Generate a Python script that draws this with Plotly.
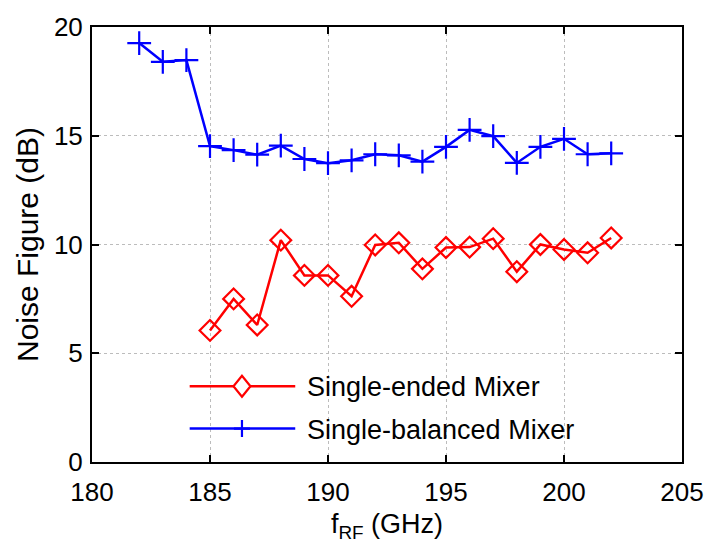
import plotly.graph_objects as go

# RF frequency (GHz) and measured noise figure (dB)
freq_se = [185, 186, 187, 188, 189, 190, 191, 192, 193, 194, 195, 196, 197, 198, 199, 200, 201, 202]
nf_se = [6.05, 7.5, 6.3, 10.2, 8.58, 8.58, 7.62, 9.98, 10.08, 8.88, 9.86, 9.88, 10.27, 8.75, 10.0, 9.77, 9.62, 10.3]

freq_sb = [182, 183, 184, 185, 186, 187, 188, 189, 190, 191, 192, 193, 194, 195, 196, 197, 198, 199, 200, 201, 202]
nf_sb = [19.26, 18.4, 18.48, 14.52, 14.34, 14.13, 14.55, 13.93, 13.74, 13.87, 14.15, 14.1, 13.81, 14.49, 15.27, 14.98, 13.75, 14.49, 14.86, 14.15, 14.19]

x_ticks = [180, 185, 190, 195, 200, 205]
y_ticks = [0, 5, 10, 15, 20]

series_names = ["Single-ended Mixer", "Single-balanced Mixer"]
RED = "#ff0000"
BLUE = "#0000ff"
FONT = "Liberation Sans, Arial, sans-serif"

fig = go.Figure()
fig.add_trace(go.Scatter(
    x=freq_se, y=nf_se, mode="lines+markers", name=series_names[0],
    line=dict(color=RED, width=2.5),
    marker=dict(symbol="diamond-open", size=16, color=RED, line=dict(width=2.2, color=RED)),
    showlegend=False, cliponaxis=False,
))
fig.add_trace(go.Scatter(
    x=freq_sb, y=nf_sb, mode="lines+markers", name=series_names[1],
    line=dict(color=BLUE, width=2.5),
    marker=dict(symbol="cross-thin-open", size=17, color=BLUE, line=dict(width=2.2, color=BLUE)),
    showlegend=False, cliponaxis=False,
))

# Hand-drawn legend: long line samples with centred glyphs, no frame
W, H = 598.0, 442.0  # plot area in pixels
def px_x(p):
    return (p - 92) / W
def px_y(p):
    return (462 - p) / H

legend_rows = [(385, RED, "diamond"), (428, BLUE, "plus")]
for (row_y, col, glyph), label in zip(legend_rows, series_names):
    fig.add_shape(type="line", xref="paper", yref="paper",
                  x0=px_x(191), x1=px_x(298), y0=px_y(row_y), y1=px_y(row_y),
                  line=dict(color=col, width=2.5))
    if glyph == "diamond":
        path = "M0,-10.5 L8.5,0 L0,10.5 L-8.5,0 Z"
    else:
        path = "M-8,0 L8,0 M0,-8.5 L0,8.5"
    fig.add_shape(type="path", xref="paper", yref="paper",
                  xsizemode="pixel", ysizemode="pixel",
                  xanchor=px_x(244), yanchor=px_y(row_y),
                  path=path, line=dict(color=col, width=2.2),
                  fillcolor="white" if glyph == "diamond" else None)
    fig.add_annotation(xref="paper", yref="paper", x=px_x(308), y=px_y(row_y + 1),
                       text=label, showarrow=False, xanchor="left", yanchor="middle",
                       font=dict(family=FONT, size=27, color="black"))

axis_common = dict(
    showline=True, linecolor="black", linewidth=2, mirror="allticks",
    ticks="inside", ticklen=7, tickwidth=2, tickcolor="black",
    showgrid=True, gridcolor="#bcbcbc", griddash="dot", gridwidth=1,
    zeroline=False,
    tickfont=dict(family=FONT, size=26, color="black"),
)

fig.update_xaxes(range=[180, 205], tickvals=x_ticks, ticktext=[str(v) for v in x_ticks],
                 ticklabelstandoff=6,
                 title=dict(text="f<sub>RF</sub> (GHz)", font=dict(family=FONT, size=27, color="black"),
                            standoff=8),
                 **axis_common)
fig.update_yaxes(range=[0, 20], tickvals=y_ticks, ticktext=[str(v) for v in y_ticks],
                 ticklabelstandoff=2,
                 title=dict(text="Noise Figure (dB)", font=dict(family=FONT, size=30, color="black"),
                            standoff=6),
                 **axis_common)

fig.update_layout(
    width=716, height=550,
    margin=dict(l=92, r=26, t=20, b=88),
    paper_bgcolor="white", plot_bgcolor="white",
    showlegend=False,
)

fig.write_html("out.html")
